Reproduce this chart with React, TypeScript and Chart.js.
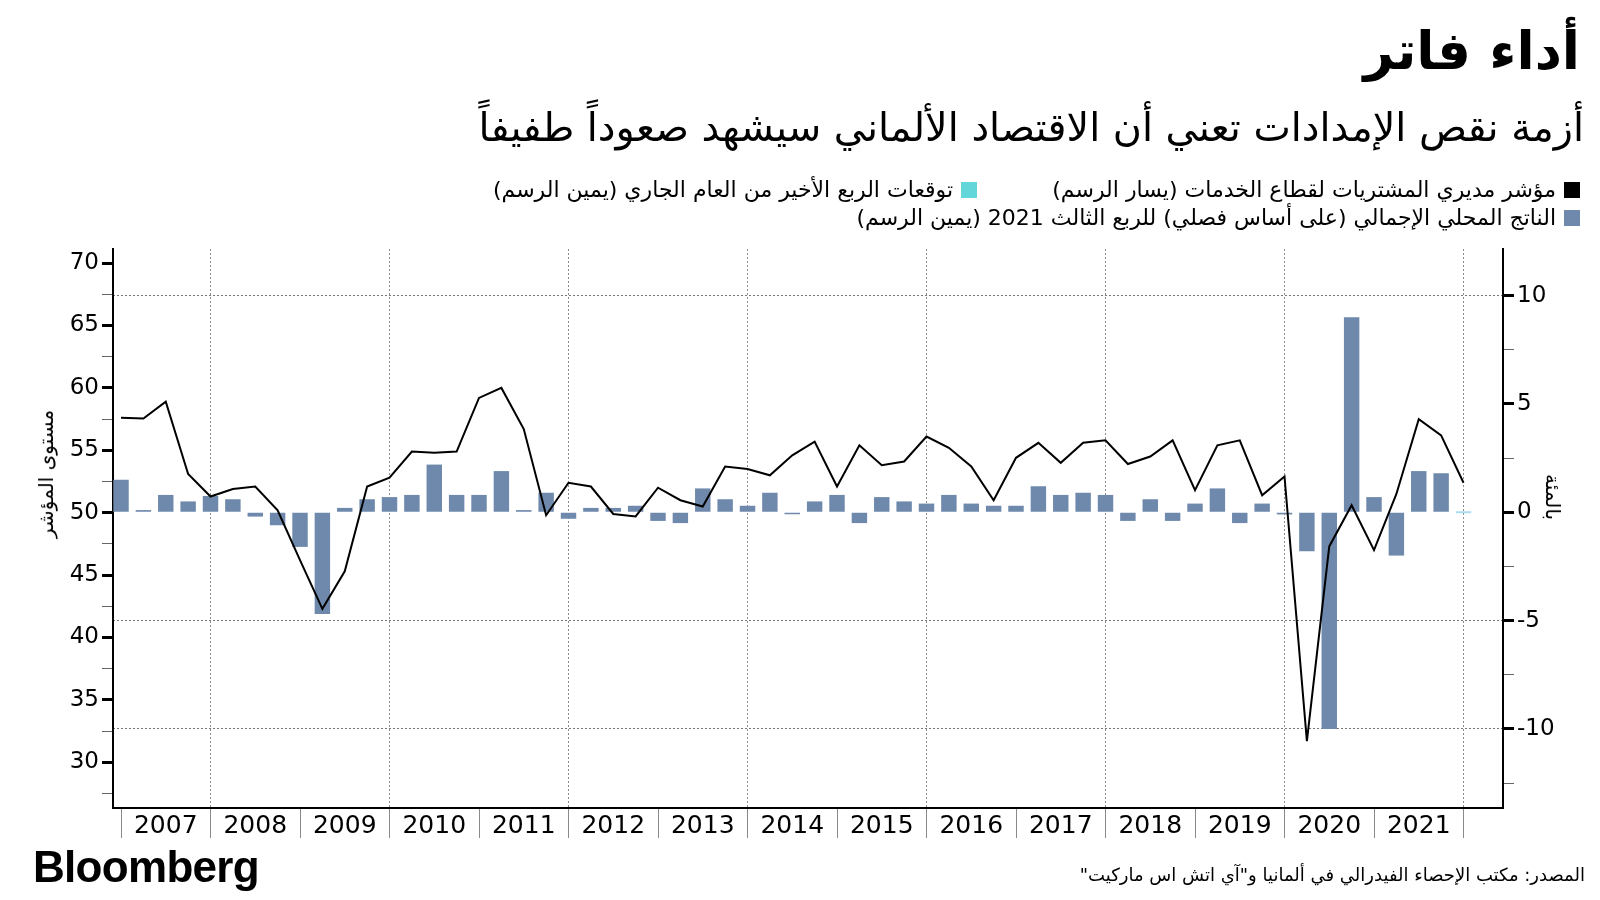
import React, { useEffect, useRef } from "react";
import { Chart, registerables } from "chart.js";

Chart.register(...registerables);

// Year labels for the x axis (each year spans 4 quarterly points)
const yearLabels = ["2007", "2008", "2009", "2010", "2011", "2012", "2013", "2014", "2015", "2016", "2017", "2018", "2019", "2020", "2021"];

// Services PMI, end-of-quarter readings, Dec 2006 .. Dec 2021 (left axis)
const pmiServices = [
  57.6, 57.55, 58.9, 53.1, 51.3, 51.9, 52.1, 50.2, 46.2, 42.3,
  45.3, 52.1, 52.8, 54.9, 54.8, 54.9, 59.2, 60.0, 56.7, 49.8,
  52.4, 52.1, 49.9, 49.7, 52.0, 51.0, 50.5, 53.7, 53.5, 53.0,
  54.6, 55.7, 52.1, 55.4, 53.8, 54.1, 56.1, 55.2, 53.7, 51.0,
  54.4, 55.6, 54.0, 55.6, 55.8, 53.9, 54.5, 55.8, 51.8, 55.4,
  55.8, 51.4, 52.9, 31.7, 47.3, 50.6, 47.0, 51.5, 57.5, 56.2,
  52.4,
];

// GDP, quarter-on-quarter %, Q4 2006 .. Q3 2021 (right axis)
const gdpQoQ = [
  1.5, 0.1, 0.8, 0.5, 0.75, 0.6, -0.2, -0.6, -1.6, -4.7,
  0.2, 0.6, 0.7, 0.8, 2.2, 0.8, 0.8, 1.9, 0.1, 0.9,
  -0.3, 0.2, 0.2, 0.3, -0.4, -0.5, 1.1, 0.6, 0.3, 0.9,
  -0.05, 0.5, 0.8, -0.5, 0.7, 0.5, 0.4, 0.8, 0.4, 0.3,
  0.3, 1.2, 0.8, 0.9, 0.8, -0.4, 0.6, -0.4, 0.4, 1.1,
  -0.5, 0.4, -0.1, -1.8, -10.0, 9.0, 0.7, -2.0, 1.9, 1.8,
];

// Q4 2021 forecast (right axis)
const q4Forecast = [0];

const leftTicks = [27.5, 30, 32.5, 35, 37.5, 40, 42.5, 45, 47.5, 50, 52.5, 55, 57.5, 60, 62.5, 65, 67.5, 70];
const rightTicks = [-12.5, -10, -7.5, -5, -2.5, 0, 2.5, 5, 7.5, 10];
const rightGridValues = [10, -5, -10];

const BAR_COLOR = "#6f89ad";
const CYAN = "#62d6d8";
const FONT = '"DejaVu Sans", sans-serif';

export default function App() {
  const ref = useRef<HTMLCanvasElement | null>(null);

  useEffect(() => {
    if (!ref.current) return;
    const xTicks: number[] = [];
    for (let k = 0; k <= yearLabels.length; k++) {
      xTicks.push(4 * k);
      if (k < yearLabels.length) xTicks.push(4 * k + 2);
    }
    const chart = new Chart(ref.current, {
      type: "bar",
      data: {
        datasets: [
          {
            type: "line",
            label: "pmi",
            data: pmiServices.map((v, i) => ({ x: i, y: v })),
            borderColor: "#000",
            borderWidth: 2,
            pointRadius: 0,
            tension: 0,
            yAxisID: "y",
            order: 0,
          } as any,
          {
            type: "bar",
            label: "gdp",
            data: gdpQoQ.map((v, i) => ({ x: i, y: v })),
            backgroundColor: BAR_COLOR,
            yAxisID: "y1",
            grouped: false,
            barPercentage: 0.69,
            categoryPercentage: 1,
            minBarLength: 2,
            order: 1,
          } as any,
          {
            type: "bar",
            label: "forecast",
            data: q4Forecast.map((v, i) => ({ x: gdpQoQ.length + i, y: v })),
            backgroundColor: "#a9dcef",
            yAxisID: "y1",
            grouped: false,
            barPercentage: 0.69,
            categoryPercentage: 1,
            minBarLength: 2,
            order: 2,
          } as any,
        ],
      },
      options: {
        responsive: false,
        maintainAspectRatio: false,
        animation: false,
        layout: { padding: { top: 249, left: 0, right: 0, bottom: 0 } },
        plugins: { legend: { display: false }, tooltip: { enabled: false }, title: { display: false } },
        scales: {
          x: {
            type: "linear",
            position: "bottom",
            offset: false,
            min: -0.358,
            max: 61.765,
            afterBuildTicks: (s: any) => {
              s.ticks = xTicks.map((v) => ({ value: v }));
            },
            afterFit: (s: any) => {
              s.height = 92;
            },
            ticks: {
              autoSkip: false,
              maxRotation: 0,
              minRotation: 0,
              padding: -27,
              color: "#000",
              font: { size: 25, family: FONT },
              callback: (v: any) => (v % 4 === 2 ? yearLabels[(v - 2) / 4] : ""),
            },
            grid: {
              offset: false,
              drawOnChartArea: true,
              lineWidth: 1,
              color: (ctx: any) => {
                const v = ctx.tick ? ctx.tick.value : -1;
                return v % 4 === 0 && (v / 4) % 2 === 1 ? "#8c8c8c" : "rgba(0,0,0,0)";
              },
              tickColor: (ctx: any) => {
                const v = ctx.tick ? ctx.tick.value : -1;
                return v % 4 === 0 ? "#8a8a8a" : "rgba(0,0,0,0)";
              },
              tickLength: 30,
              tickWidth: 1,
            },
            border: { display: true, color: "#000", width: 2, dash: [2, 2] },
          },
          y: {
            type: "linear",
            position: "left",
            min: 26.34,
            max: 71.13,
            afterBuildTicks: (s: any) => {
              s.ticks = leftTicks.map((v) => ({ value: v }));
            },
            afterFit: (s: any) => {
              s.width = 113;
            },
            ticks: {
              padding: 3,
              color: "#000",
              font: { size: 23, family: FONT },
              callback: (v: any) => (v % 5 === 0 ? String(v) : ""),
            },
            grid: {
              drawOnChartArea: false,
              tickLength: 11,
              tickColor: (ctx: any) => (ctx.tick && ctx.tick.value % 5 === 0 ? "#000" : "#666"),
              tickWidth: (ctx: any) => (ctx.tick && ctx.tick.value % 5 === 0 ? 3 : 1),
            },
            border: { display: true, color: "#000", width: 2 },
          },
          y1: {
            type: "linear",
            position: "right",
            min: -13.65,
            max: 12.15,
            afterBuildTicks: (s: any) => {
              s.ticks = rightTicks.map((v) => ({ value: v }));
            },
            afterFit: (s: any) => {
              s.width = 97;
            },
            ticks: {
              padding: 3,
              color: "#000",
              font: { size: 23, family: FONT },
              callback: (v: any) => (v % 5 === 0 ? String(v) : ""),
            },
            grid: {
              drawOnChartArea: true,
              lineWidth: 1,
              color: (ctx: any) =>
                ctx.tick && rightGridValues.includes(ctx.tick.value) ? "#777" : "rgba(0,0,0,0)",
              tickLength: 11,
              tickColor: (ctx: any) => (ctx.tick && ctx.tick.value % 5 === 0 ? "#000" : "#666"),
              tickWidth: (ctx: any) => (ctx.tick && ctx.tick.value % 5 === 0 ? 3 : 1),
            },
            border: { display: true, color: "#000", width: 2, dash: [2, 2] },
          },
        },
      } as any,
    });
    return () => chart.destroy();
  }, []);

  const abs: React.CSSProperties = { position: "absolute", whiteSpace: "nowrap", fontFamily: FONT, color: "#000" };
  const square = (c: string): React.CSSProperties => ({ display: "inline-block", width: 16, height: 16, background: c, flex: "0 0 auto" });
  const legendItem = (right: number, top: number, color: string, text: string) => (
    <div style={{ ...abs, right, top, display: "flex", alignItems: "center", direction: "rtl", fontSize: 22, lineHeight: "26px" }}>
      <span style={square(color)} />
      <span style={{ marginRight: 8 }}>{text}</span>
    </div>
  );

  return (
    <div style={{ position: "fixed", left: 0, top: 0, width: 1600, height: 900, background: "#fff", overflow: "hidden" }}>
      <canvas ref={ref} width={1600} height={900} style={{ position: "absolute", left: 0, top: 0, width: 1600, height: 900, display: "block" }} />
      <div style={{ ...abs, right: 20, top: 24, fontSize: 53, fontWeight: "bold", lineHeight: 1, direction: "rtl" }}>أداء فاتر</div>
      <div style={{ ...abs, right: 16, top: 104, fontSize: 39.7, lineHeight: 1.2, direction: "rtl" }}>
        أزمة نقص الإمدادات تعني أن الاقتصاد الألماني سيشهد صعوداً طفيفاً
      </div>
      {legendItem(20, 177, "#000", "مؤشر مديري المشتريات لقطاع الخدمات (يسار الرسم)")}
      {legendItem(623, 177, CYAN, "توقعات الربع الأخير من العام الجاري (يمين الرسم)")}
      {legendItem(20, 205, BAR_COLOR, "الناتج المحلي الإجمالي (على أساس فصلي) للربع الثالث 2021 (يمين الرسم)")}
      <div style={{ ...abs, left: 46, top: 474, fontSize: 20, transform: "translate(-50%, -50%) rotate(-90deg)", direction: "rtl" }}>مستوى المؤشر</div>
      <div style={{ ...abs, left: 1553, top: 497, fontSize: 20, transform: "translate(-50%, -50%) rotate(90deg)", direction: "rtl" }}>بالمئة</div>
      <div style={{ ...abs, left: 33, top: 843, fontSize: 44, fontWeight: "bold", fontFamily: '"Liberation Sans", Arial, sans-serif', letterSpacing: -0.7, lineHeight: 1.1 }}>Bloomberg</div>
      <div style={{ ...abs, right: 15, top: 863, fontSize: 18, direction: "rtl", lineHeight: "24px" }}>
        المصدر: مكتب الإحصاء الفيدرالي في ألمانيا و"آي اتش اس ماركيت"
      </div>
    </div>
  );
}
